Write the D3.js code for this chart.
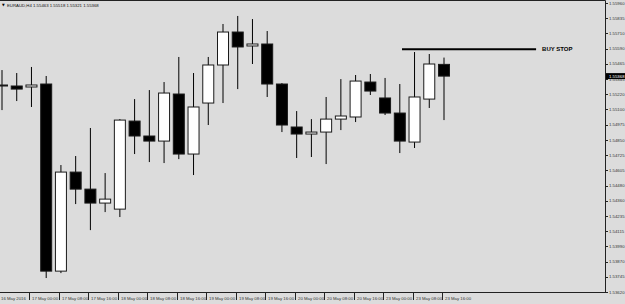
<!DOCTYPE html>
<html lang="en">
  <head>
    <meta charset="utf-8" />
    <script type="text/javascript" src="https://d3js.org/d3.v7.min.js"></script>
    <style>
      body { margin: 0; background: #dcdcdc; }
      svg { display: block; }
    </style>
  </head>

  <body>
    <script type="text/javascript">
      let w = 625;
      let h = 304;

      // EURAUD H4 bars
      let times = [
        "16 May 16:00", "16 May 20:00", "17 May 00:00", "17 May 04:00", "17 May 08:00",
        "17 May 12:00", "17 May 16:00", "17 May 20:00", "18 May 00:00", "18 May 04:00",
        "18 May 08:00", "18 May 12:00", "18 May 16:00", "18 May 20:00", "19 May 00:00",
        "19 May 04:00", "19 May 08:00", "19 May 12:00", "19 May 16:00", "19 May 20:00",
        "20 May 00:00", "20 May 04:00", "20 May 08:00", "20 May 12:00", "20 May 16:00",
        "20 May 20:00", "23 May 00:00", "23 May 04:00", "23 May 08:00", "23 May 12:00",
        "23 May 16:00",
      ];
      let opens = [
        1.55296, 1.55288, 1.5528, 1.55304, 1.53789, 1.54591, 1.54453, 1.5434, 1.54291,
        1.55004, 1.54883, 1.54842, 1.55223, 1.54737, 1.5515, 1.55458, 1.55725, 1.55612,
        1.55628, 1.55304, 1.54956, 1.54899, 1.54915, 1.5502, 1.55037, 1.5532, 1.55191,
        1.55069, 1.54834, 1.55182, 1.55463,
      ];
      let highs = [
        1.55417, 1.55393, 1.55442, 1.55369, 1.54648, 1.54721, 1.54948, 1.54583, 1.5502,
        1.55182, 1.55255, 1.5532, 1.55523, 1.55393, 1.55523, 1.5579, 1.55855, 1.5583,
        1.55733, 1.55312, 1.55085, 1.5502, 1.55199, 1.55344, 1.55377, 1.55385, 1.55353,
        1.55304, 1.55563, 1.55547, 1.55518,
      ];
      let lows = [
        1.55093, 1.55166, 1.55118, 1.53733, 1.53773, 1.54332, 1.54121, 1.54267, 1.54227,
        1.54737, 1.54672, 1.54664, 1.54696, 1.54567, 1.54972, 1.5515, 1.55263, 1.55466,
        1.55199, 1.54915, 1.54705, 1.54713, 1.54656, 1.54931, 1.54996, 1.55215, 1.55053,
        1.54745, 1.54786, 1.5511, 1.55012,
      ];
      let closes = [
        1.55288, 1.55263, 1.55296, 1.53789, 1.54591, 1.54453, 1.5434, 1.54372, 1.55012,
        1.54883, 1.54842, 1.55231, 1.54737, 1.55118, 1.55458, 1.55725, 1.55604, 1.55628,
        1.55304, 1.54972, 1.54899, 1.54915, 1.5502, 1.55045, 1.55328, 1.55247, 1.55069,
        1.54842, 1.55199, 1.55466, 1.55368,
      ];

      let priceTicks = [
        "1.55960", "1.55835", "1.55710", "1.55590", "1.55465", "1.55345", "1.55220",
        "1.55100", "1.54975", "1.54850", "1.54725", "1.54605", "1.54480", "1.54360",
        "1.54235", "1.54115", "1.53990", "1.53870", "1.53745", "1.53620",
      ];
      let firstDateLabel = "16 May 2016";
      let header = "EURAUD,H4 1.55463 1.55518 1.55321 1.55368";
      let lastPrice = 1.55368;

      // buy stop line: price and bar-index span
      let buyStopPrice = 1.55585;
      let buyStopSpan = [27.15, 36.25];
      let buyStopText = "BUY STOP";

      let plotRight = 605;
      let plotBottom = 292;

      let svg = d3
        .select("body")
        .append("svg")
        .attr("width", w)
        .attr("height", h);

      svg.append("rect").attr("width", w).attr("height", h).attr("fill", "#dcdcdc");

      let x = d3.scaleLinear().domain([0, times.length - 1]).range([2, 444]);
      let y = d3.scaleLinear().domain([1.5362, 1.5596]).range([plotBottom, 3]);

      let bars = times.map((t, i) => ({
        t: t,
        i: i,
        o: opens[i],
        hi: highs[i],
        lo: lows[i],
        c: closes[i],
      }));

      let plot = svg.append("g");

      // wicks
      plot
        .selectAll("line.wick")
        .data(bars)
        .join("line")
        .attr("class", "wick")
        .attr("x1", (d) => x(d.i))
        .attr("x2", (d) => x(d.i))
        .attr("y1", (d) => y(d.hi))
        .attr("y2", (d) => y(d.lo))
        .attr("stroke", "#000")
        .attr("stroke-width", 1);

      // bodies
      let bw = 11;
      plot
        .selectAll("rect.body")
        .data(bars)
        .join("rect")
        .attr("class", "body")
        .attr("x", (d) => x(d.i) - bw / 2)
        .attr("y", (d) => y(Math.max(d.o, d.c)))
        .attr("width", bw)
        .attr("height", (d) => Math.max(1, Math.abs(y(d.o) - y(d.c))))
        .attr("fill", (d) => (d.c >= d.o ? "#fff" : "#000"))
        .attr("stroke", "#1a1a1a")
        .attr("stroke-width", 1);

      // buy stop level
      svg
        .append("line")
        .attr("x1", x(buyStopSpan[0]))
        .attr("x2", x(buyStopSpan[1]))
        .attr("y1", y(buyStopPrice))
        .attr("y2", y(buyStopPrice))
        .attr("stroke", "#000")
        .attr("stroke-width", 2);

      svg
        .append("text")
        .attr("x", x(buyStopSpan[1]) + 6)
        .attr("y", y(buyStopPrice))
        .attr("dominant-baseline", "middle")
        .attr("font-family", "Liberation Sans, Arial, sans-serif")
        .attr("font-weight", "bold")
        .attr("font-size", "6px")
        .attr("fill", "#000")
        .text(buyStopText);

      // frame
      svg
        .append("path")
        .attr("d", `M0,0.5H${plotRight}.5V${plotBottom}.5H0`)
        .attr("fill", "none")
        .attr("stroke", "#222")
        .attr("stroke-width", 1);

      // price axis (labels evenly spaced)
      let yTick = d3
        .scaleLinear()
        .domain([0, priceTicks.length - 1])
        .range([y(1.5596), y(1.5362)]);

      let pAxis = svg.append("g");
      pAxis
        .selectAll("line")
        .data(priceTicks)
        .join("line")
        .attr("x1", plotRight)
        .attr("x2", plotRight + 3)
        .attr("y1", (d, i) => Math.round(yTick(i)) + 0.5)
        .attr("y2", (d, i) => Math.round(yTick(i)) + 0.5)
        .attr("stroke", "#222");
      pAxis
        .selectAll("text")
        .data(priceTicks)
        .join("text")
        .attr("x", plotRight + 4)
        .attr("y", (d, i) => yTick(i) + 0.5)
        .attr("dominant-baseline", "middle")
        .attr("font-family", "Liberation Sans, Arial, sans-serif")
        .attr("font-size", "4.3px")
        .attr("fill", "#333")
        .text((d) => d);

      // current price box
      svg
        .append("rect")
        .attr("x", plotRight + 1)
        .attr("y", y(lastPrice) - 3)
        .attr("width", w - plotRight - 1)
        .attr("height", 6)
        .attr("fill", "#000");
      svg
        .append("text")
        .attr("x", plotRight + 4)
        .attr("y", y(lastPrice) + 0.3)
        .attr("dominant-baseline", "middle")
        .attr("font-family", "Liberation Sans, Arial, sans-serif")
        .attr("font-size", "4.3px")
        .attr("fill", "#fff")
        .text(d3.format(".5f")(lastPrice));

      // time axis, one label per two bars
      let timeTicks = bars.filter((d) => d.i >= 2 && d.i % 2 === 0);
      let tAxis = svg.append("g");
      tAxis
        .selectAll("line")
        .data(timeTicks)
        .join("line")
        .attr("x1", (d) => Math.round(x(d.i)) - 1.5)
        .attr("x2", (d) => Math.round(x(d.i)) - 1.5)
        .attr("y1", plotBottom)
        .attr("y2", plotBottom + 8)
        .attr("stroke", "#222");
      tAxis
        .selectAll("text")
        .data([{ t: firstDateLabel, i: -0.1 }].concat(timeTicks))
        .join("text")
        .attr("x", (d) => (d.i < 0 ? 1 : Math.round(x(d.i)) + 1))
        .attr("y", plotBottom + 6.5)
        .attr("dominant-baseline", "middle")
        .attr("font-family", "Liberation Sans, Arial, sans-serif")
        .attr("font-size", "4.3px")
        .attr("fill", "#333")
        .text((d) => d.t);

      // header
      svg
        .append("text")
        .attr("x", 2)
        .attr("y", 5.5)
        .attr("dominant-baseline", "middle")
        .attr("font-family", "DejaVu Sans, sans-serif")
        .attr("font-size", "3.5px")
        .attr("fill", "#000")
        .text("\u25BC");
      svg
        .append("text")
        .attr("x", 7)
        .attr("y", 5.5)
        .attr("dominant-baseline", "middle")
        .attr("font-family", "Liberation Sans, Arial, sans-serif")
        .attr("font-size", "4.3px")
        .attr("fill", "#111")
        .text(header);
    </script>
  </body>
</html>
